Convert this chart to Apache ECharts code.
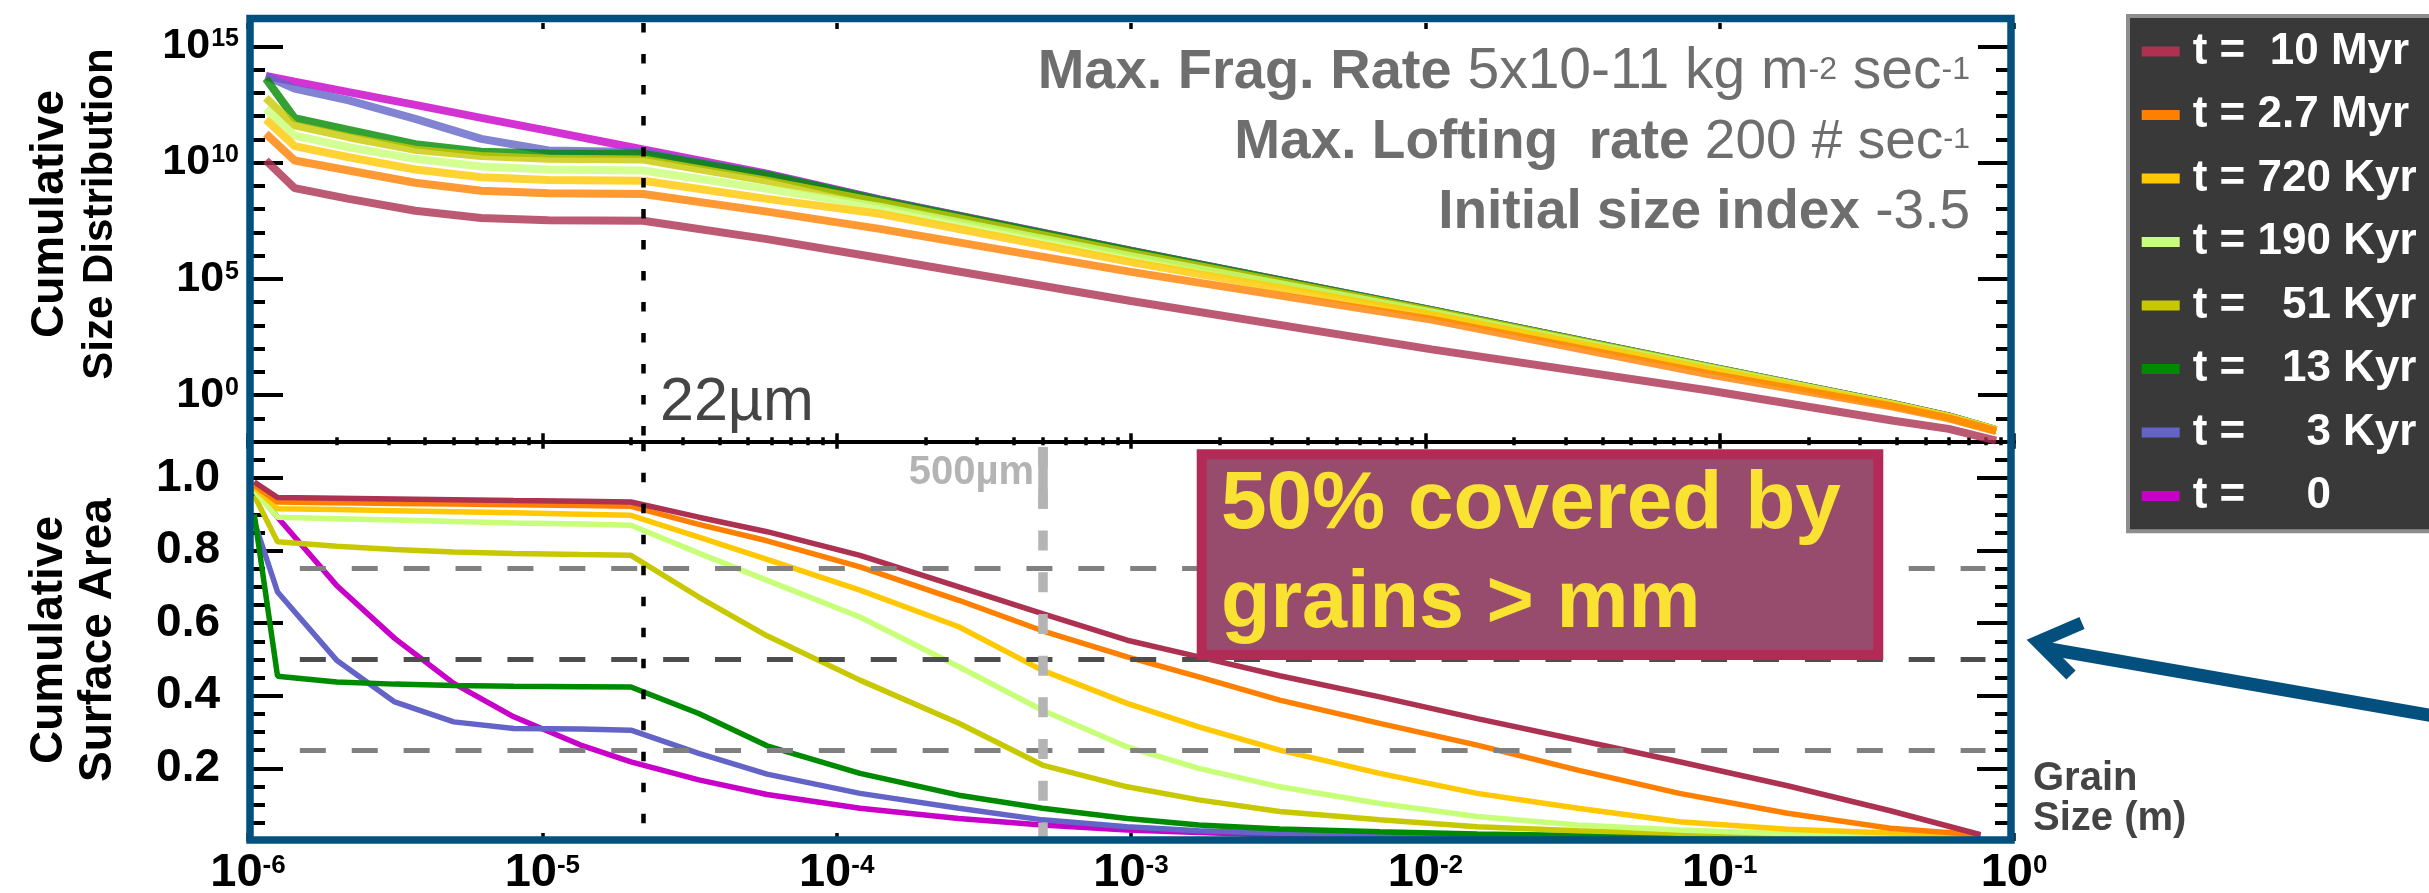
<!DOCTYPE html>
<html><head><meta charset="utf-8">
<script src="https://cdn.jsdelivr.net/npm/echarts@6/dist/echarts.min.js"></script>
<style>html,body{margin:0;padding:0;background:#fff}#c{width:2429px;height:893px}</style>
</head><body><div id="c"></div>
<script>
// ---------------- data ----------------
const seriesNames = ['t =  10 Myr','t = 2.7 Myr','t = 720 Kyr','t = 190 Kyr','t =   51 Kyr','t =   13 Kyr','t =     3 Kyr','t =     0'];
const seriesColors = ['#ad3150','#ff8000','#ffc800','#c8ff78','#c8c800','#008a00','#6464c8','#c800c8'];

// top panel: grain size (m) and log10 of cumulative size distribution
const topSize = [1.15e-6,1.44e-6,2.2e-6,3.7e-6,6.2e-6,1.05e-5,2.2e-5,5.8e-5,1.4e-4,1.0e-3,1.05e-2,9.2e-2,0.39,0.6,0.87];
const sd10Myr  = [10.09,8.90,8.44,7.93,7.62,7.52,7.50,6.71,5.90,4.05,1.97,0.20,-1.10,-1.45,-1.95];
const sd2_7Myr = [11.24,10.09,9.66,9.13,8.79,8.68,8.65,7.89,7.15,5.30,3.25,0.90,-0.50,-1.00,-1.55];
const sd720Kyr = [11.85,10.71,10.23,9.70,9.37,9.25,9.22,8.44,7.80,5.72,3.45,1.10,-0.44,-0.95,-1.52];
const sd190Kyr = [12.31,11.16,10.66,10.16,9.83,9.70,9.66,8.87,8.10,5.98,3.56,1.17,-0.41,-0.93,-1.50];
const sd51Kyr  = [12.78,11.60,11.09,10.55,10.28,10.16,10.13,9.22,8.30,6.12,3.62,1.20,-0.40,-0.92,-1.50];
const sd13Kyr  = [13.61,11.91,11.40,10.79,10.47,10.39,10.38,9.47,8.38,6.20,3.65,1.22,-0.39,-0.91,-1.50];
const sd3Kyr   = [13.72,13.18,12.67,11.88,11.02,10.52,10.45,9.49,8.41,6.20,3.65,1.22,-0.39,-0.91,-1.50];
const sd0      = [13.72,13.48,13.03,12.48,11.92,11.36,10.56,9.52,8.42,6.21,3.65,1.22,-0.39,-0.91,-1.50];

// bottom panel: grain size (m) and cumulative surface area fraction
const botSize = [1.05e-6,1.26e-6,2.0e-6,3.15e-6,5.0e-6,8.0e-6,1.35e-5,2.0e-5,3.4e-5,5.8e-5,1.2e-4,2.6e-4,5.0e-4,9.7e-4,1.7e-3,3.2e-3,7.0e-3,1.5e-2,3.3e-2,7.3e-2,0.17,0.38,0.77];
const sa10Myr  = [0.989,0.946,0.944,0.942,0.940,0.938,0.936,0.934,0.892,0.852,0.787,0.700,0.626,0.553,0.507,0.455,0.397,0.337,0.278,0.218,0.152,0.083,0.017];
const sa2_7Myr = [0.980,0.934,0.932,0.930,0.928,0.926,0.924,0.922,0.872,0.827,0.755,0.663,0.579,0.507,0.452,0.388,0.324,0.264,0.195,0.131,0.076,0.035,0.016];
const sa720Kyr = [0.975,0.915,0.913,0.910,0.907,0.904,0.900,0.897,0.837,0.776,0.691,0.590,0.470,0.379,0.314,0.250,0.186,0.131,0.090,0.053,0.032,0.022,0.015];
const sa190Kyr = [0.966,0.892,0.888,0.884,0.880,0.876,0.873,0.870,0.793,0.718,0.617,0.480,0.360,0.259,0.200,0.149,0.103,0.067,0.044,0.030,0.020,0.016,0.014];
const sa51Kyr  = [0.952,0.824,0.812,0.803,0.796,0.792,0.789,0.787,0.672,0.565,0.443,0.324,0.209,0.149,0.113,0.081,0.058,0.039,0.028,0.021,0.017,0.015,0.014];
const sa13Kyr  = [0.900,0.454,0.438,0.432,0.428,0.426,0.425,0.424,0.351,0.262,0.186,0.126,0.090,0.062,0.044,0.033,0.025,0.019,0.015,0.014,0.013,0.013,0.012];
const sa3Kyr   = [0.880,0.686,0.498,0.383,0.328,0.310,0.308,0.305,0.241,0.184,0.131,0.090,0.058,0.039,0.028,0.021,0.016,0.014,0.013,0.012,0.012,0.012,0.011];
const sa0      = [0.970,0.892,0.704,0.558,0.434,0.342,0.264,0.218,0.168,0.128,0.090,0.062,0.044,0.030,0.023,0.016,0.013,0.012,0.012,0.011,0.011,0.011,0.010];

// ticks and tick labels
const xMajorTicks = [1e-6,1e-5,1e-4,1e-3,1e-2,1e-1,1];
const xTickExp = ['-6','-5','-4','-3','-2','-1','0'];
const yTopMajorTicks = [1,1e5,1e10,1e15];
const yTopTickExp = ['0','5','10','15'];
const yTopMinorTicks = [1e-1,1e1,1e2,1e3,1e4,1e6,1e7,1e8,1e9,1e11,1e12,1e13,1e14];
const yBotMajorTicks = [0.2,0.4,0.6,0.8,1.0];
const yBotTickLabels = ['0.2','0.4','0.6','0.8','1.0'];
const yBotMinorTicks = [0.05,0.1,0.15,0.25,0.3,0.35,0.45,0.5,0.55,0.65,0.7,0.75,0.85,0.9,0.95,1.05];
const grainMark = 2.2e-5, grainMark2 = 5e-4;
const hLines = [0.75, 0.5, 0.25];

// ---------------- build ----------------
const FONT = 'Liberation Sans';
const sdAll = [sd10Myr,sd2_7Myr,sd720Kyr,sd190Kyr,sd51Kyr,sd13Kyr,sd3Kyr,sd0];
const saAll = [sa10Myr,sa2_7Myr,sa720Kyr,sa190Kyr,sa51Kyr,sa13Kyr,sa3Kyr,sa0];
const xMinorTicks = [];
for (let d = 0; d < 6; d++) for (let k = 2; k <= 9; k++) xMinorTicks.push(+(k * xMajorTicks[d]).toPrecision(3));

function tick(len, vals, w) {
  return {show:true, inside:true, length:len, customValues:vals, lineStyle:{color:'#000', width:w||3.5}};
}
function xAx(grid, pos, t, extra) {
  return Object.assign({type:'log', logBase:10, min:1e-6, max:1, gridIndex:grid, position:pos,
    axisLine:{show:false, onZero:false}, splitLine:{show:false}, minorTick:{show:false},
    axisLabel:{show:false}, axisTick:t, silent:true}, extra||{});
}
function yTopAx(pos, t, extra) {
  return Object.assign({type:'log', logBase:10, min:1e-2, max:1e16, gridIndex:0, position:pos,
    axisLine:{show:false, onZero:false}, splitLine:{show:false}, minorTick:{show:false},
    axisLabel:{show:false}, axisTick:t, silent:true}, extra||{});
}
function yBotAx(pos, t, extra) {
  return Object.assign({type:'value', min:0, max:1.1, gridIndex:1, position:pos,
    axisLine:{show:false, onZero:false}, splitLine:{show:false}, minorTick:{show:false},
    axisLabel:{show:false}, axisTick:t, silent:true}, extra||{});
}
function nearestIdx(arr, v) {
  let best = 0;
  arr.forEach((a,i)=>{ if (Math.abs(Math.log10(a/v)) < Math.abs(Math.log10(arr[best]/v))) best = i; });
  return best;
}

const xAxis = [
  xAx(0,'bottom',tick(8.5,xMajorTicks),{axisLine:{show:true,onZero:false,lineStyle:{color:'#000',width:4}}}),
  xAx(0,'bottom',tick(4.5,xMinorTicks)),
  xAx(0,'top',tick(6,xMajorTicks)),
  xAx(1,'bottom',tick(8,xMajorTicks),{axisLabel:{show:true, customValues:xMajorTicks, margin:9,
     formatter:(v)=>'{b|10}{s|'+xTickExp[nearestIdx(xMajorTicks,v)]+'}',
     rich:{b:{fontSize:47,fontWeight:'bold',fontFamily:FONT,color:'#000',lineHeight:47},
           s:{fontSize:26,fontWeight:'bold',fontFamily:FONT,color:'#000',verticalAlign:'top',padding:[3,0,0,0]}}}}),
  xAx(1,'bottom',tick(4,xMinorTicks)),
  xAx(1,'top',tick(7,xMajorTicks)),
  xAx(1,'top',tick(3.5,xMinorTicks))
];
const yAxis = [
  yTopAx('left',tick(35,yTopMajorTicks,4),{axisLabel:{show:true, customValues:yTopMajorTicks, margin:9,
     formatter:(v)=>'{b|10}{s|'+yTopTickExp[nearestIdx(yTopMajorTicks,v)]+'}',
     rich:{b:{fontSize:43,fontWeight:'bold',fontFamily:FONT,color:'#000',lineHeight:43},
           s:{fontSize:25,fontWeight:'bold',fontFamily:FONT,color:'#000',verticalAlign:'top',padding:[2,0,0,1]}}}}),
  yTopAx('left',tick(17,yTopMinorTicks,4)),
  yTopAx('right',tick(36,yTopMajorTicks,4)),
  yTopAx('right',tick(18,yTopMinorTicks,4)),
  yBotAx('left',tick(35,yBotMajorTicks,4),{axisLabel:{show:true, customValues:yBotMajorTicks, margin:28,
     formatter:(v)=>yBotTickLabels[Math.round(v*5)-1],
     fontSize:46, fontWeight:'bold', fontFamily:FONT, color:'#000'}}),
  yBotAx('left',tick(17,yBotMinorTicks,4)),
  yBotAx('right',tick(37,yBotMajorTicks,4)),
  yBotAx('right',tick(19,yBotMinorTicks,4))
];

const series = [];
// guides under the curves (bottom panel)
series.push({type:'line', data:[], xAxisIndex:3, yAxisIndex:4, silent:true, z:1,
  markLine:{symbol:['none','none'], silent:true, animation:false, label:{show:false}, emphasis:{disabled:true},
    data: hLines.map(v=>[{coord:[1.5e-6,v], lineStyle:{color: v===0.5?'#4d4d4d':'#808080', width:5, type:[26,25.9]}},{coord:[0.8,v]}])
      .concat([[{coord:[grainMark2,1.085], lineStyle:{color:'#b4b4b4', width:9.5, type:[20,21.7]}},{coord:[grainMark2,0]}],
               [{coord:[grainMark2,1.085], lineStyle:{color:'#b4b4b4', width:9.5, type:'solid'}},{coord:[grainMark2,0.915]}]])
  }});
// curves: youngest drawn first, oldest on top
for (let i = seriesNames.length - 1; i >= 0; i--) {
  series.push({type:'line', name:seriesNames[i], xAxisIndex:0, yAxisIndex:0, silent:true, z:2,
    data: topSize.map((x,j)=>[x, Math.pow(10, sdAll[i][j])]),
    symbol:'none', showSymbol:false, itemStyle:{color:seriesColors[i]},
    lineStyle:{color:seriesColors[i], width:8, opacity:0.8}});
}
for (let i = seriesNames.length - 1; i >= 0; i--) {
  series.push({type:'line', name:seriesNames[i], xAxisIndex:3, yAxisIndex:4, silent:true, z:2,
    data: botSize.map((x,j)=>[x, saAll[i][j]]),
    symbol:'none', showSymbol:false, itemStyle:{color:seriesColors[i]},
    lineStyle:{color:seriesColors[i], width:5.5}});
}
// dotted 22 micron line in both panels (on top of curves)
function dotted(yTop, yBot) {
  return {symbol:['none','none'], silent:true, animation:false, label:{show:false}, emphasis:{disabled:true},
    lineStyle:{color:'#000', width:4.5, type:[9.5,21.5]},
    data:[[{coord:[grainMark,yTop]},{coord:[grainMark,yBot]}]]};
}
series.push({type:'line', data:[], xAxisIndex:0, yAxisIndex:0, silent:true, z:5, markLine:dotted(1e16,1e-2)});
series.push({type:'line', data:[], xAxisIndex:3, yAxisIndex:4, silent:true, z:5, markLine:dotted(1.1,0)});

const gray = '#6e6e6e';
function supRich(base, sup, pad) {
  return {b:{fontWeight:'bold', fontSize:base, fontFamily:FONT, fill:gray, lineHeight:base+1},
          s:{fontSize:sup, fontFamily:FONT, fill:gray, verticalAlign:'top', padding:[pad,0,0,0]}};
}
const graphic = [
  {type:'text', x:50, y:214, rotation:Math.PI/2, silent:true, style:{text:'Cumulative', fontSize:46, fontWeight:'bold', fontFamily:FONT, fill:'#000', align:'center', verticalAlign:'middle'}},
  {type:'text', x:100, y:214, rotation:Math.PI/2, silent:true, style:{text:'Size Distribution', fontSize:42, fontWeight:'bold', fontFamily:FONT, fill:'#000', align:'center', verticalAlign:'middle'}},
  {type:'text', x:49, y:640, rotation:Math.PI/2, silent:true, style:{text:'Cumulative', fontSize:46, fontWeight:'bold', fontFamily:FONT, fill:'#000', align:'center', verticalAlign:'middle'}},
  {type:'text', x:98, y:640, rotation:Math.PI/2, silent:true, style:{text:'Surface Area', fontSize:46, fontWeight:'bold', fontFamily:FONT, fill:'#000', align:'center', verticalAlign:'middle'}},
  {type:'text', x:1970, y:72.7, silent:true, style:{text:'{b|Max. Frag. Rate} 5x10-11 kg m{s|-2} sec{s|-1}', align:'right', verticalAlign:'middle', fill:gray, fontSize:57, fontFamily:FONT, lineHeight:58,
     rich:{b:{fontWeight:'bold', fontSize:56, fontFamily:FONT, fill:gray, lineHeight:58}, s:{fontSize:32, fontFamily:FONT, fill:gray, verticalAlign:'top', padding:[10.8,0,0,0]}}}},
  {type:'text', x:1970, y:142.5, silent:true, style:{text:'{b|Max. Lofting  rate} 200 # sec{s|-1}', align:'right', verticalAlign:'middle', fill:gray, fontSize:55, fontFamily:FONT, lineHeight:56,
     rich:supRich(55,30,10.7)}},
  {type:'text', x:1970, y:212.5, silent:true, style:{text:'{b|Initial size index} -3.5', align:'right', verticalAlign:'middle', fill:gray, fontSize:55, fontFamily:FONT, lineHeight:56,
     rich:supRich(55,30,10.7)}},
  {type:'text', x:660, y:403.5, silent:true, style:{text:'22µm', fontSize:61, fontFamily:FONT, fill:'#454545', align:'left', verticalAlign:'middle'}},
  {type:'text', x:1034, y:472.7, silent:true, style:{text:'500µm', fontSize:40, fontWeight:'bold', fontFamily:FONT, fill:'#b4b4b4', align:'right', verticalAlign:'middle'}},
  {type:'text', x:2033, y:778.7, silent:true, style:{text:'Grain', fontSize:40, fontWeight:'bold', fontFamily:FONT, fill:'#444', align:'left', verticalAlign:'middle'}},
  {type:'text', x:2033, y:819.3, silent:true, style:{text:'Size (m)', fontSize:40, fontWeight:'bold', fontFamily:FONT, fill:'#444', align:'left', verticalAlign:'middle'}},
  {type:'rect', z:50, silent:true, shape:{x:1201.7, y:454.3, width:676.6, height:200.7}, style:{fill:'#974c6e', stroke:'#b22a55', lineWidth:10}},
  {type:'text', z:51, x:1221, y:505, silent:true, style:{text:'50% covered by', fontSize:82, fontWeight:'bold', fontFamily:FONT, fill:'#fae232', align:'left', verticalAlign:'middle'}},
  {type:'text', z:51, x:1221, y:605, silent:true, style:{text:'grains > mm', fontSize:81, fontWeight:'bold', fontFamily:FONT, fill:'#fae232', align:'left', verticalAlign:'middle'}},
  {type:'rect', z:100, silent:true, shape:{x:250, y:18.5, width:1761, height:821.5}, style:{fill:'none', stroke:'#03507e', lineWidth:7.5}},
  {type:'polyline', z:100, silent:true, shape:{points:[[2445,718],[2044,648]]}, style:{fill:'none', stroke:'#03507e', lineWidth:13}},
  {type:'polyline', z:100, silent:true, shape:{points:[[2082,623],[2038,642],[2071,675]]}, style:{fill:'none', stroke:'#03507e', lineWidth:13, lineJoin:'miter'}}
];

const chart = echarts.init(document.getElementById('c'), null, {renderer:'canvas'});
chart.setOption({
  animation:false,
  backgroundColor:'#fff',
  grid:[
    {left:248, top:23, width:1766, height:418.7, containLabel:false, outerBoundsMode:'none'},
    {left:248, top:441.7, width:1766, height:399.2, containLabel:false, outerBoundsMode:'none'}
  ],
  xAxis, yAxis, series, graphic,
  legend:{
    orient:'vertical', left:2128, top:16, selectedMode:false,
    data: seriesNames.map((n,i)=>({name:n, itemStyle:{color:seriesColors[i], borderWidth:0, opacity:1}})),
    icon:'rect', itemWidth:38, itemHeight:10, itemGap:19.5,
    itemStyle:{borderWidth:0},
    padding:[13.4,40,13.4,13.7],
    backgroundColor:'#393939', borderColor:'#8e8e8e', borderWidth:4, borderRadius:0,
    textStyle:{color:'#fff', fontSize:44, fontWeight:'bold', fontFamily:FONT, padding:[0,0,0,8]}
  }
});
</script></body></html>
